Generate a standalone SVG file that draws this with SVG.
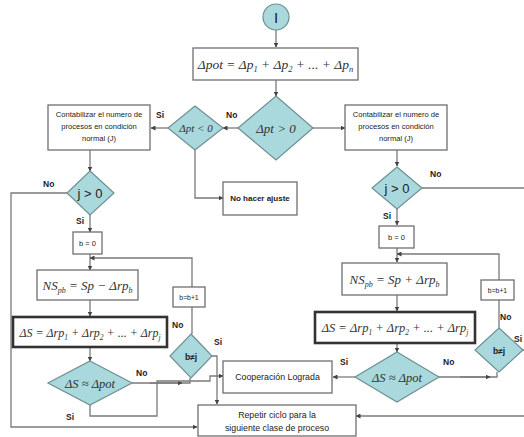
<svg xmlns="http://www.w3.org/2000/svg" width="524" height="437" viewBox="0 0 524 437">
<defs>
<style>
.box{fill:#fff;stroke:#6f6f6f;stroke-width:1.3}
.thick{fill:#fff;stroke:#333;stroke-width:2.6}
.dia{fill:#a9d9dc;stroke:#6f8f92;stroke-width:1.2}
.ln{fill:none;stroke:#7a7a7a;stroke-width:1.3}
.t{font-family:"Liberation Sans",Arial,sans-serif;fill:#222;text-anchor:middle}
.m{font-family:"Liberation Serif","Times New Roman",serif;font-style:italic;fill:#333;text-anchor:middle}
.lb{font-family:"Liberation Sans",Arial,sans-serif;font-weight:bold;font-size:8.5px;fill:#222}
</style>
<marker id="ar" markerWidth="5" markerHeight="5" refX="4.5" refY="2.5" orient="auto" markerUnits="userSpaceOnUse">
<path d="M0,0 L5,2.5 L0,5 Z" fill="#444"/>
</marker>
</defs>

<g id="connectors">
<path class="ln" d="M276,30 V47" marker-end="url(#ar)"/>
<path class="ln" d="M276,80 V96" marker-end="url(#ar)"/>
<path class="ln" d="M238,128 H223" marker-end="url(#ar)"/>
<path class="ln" d="M313,128 H345" marker-end="url(#ar)"/>
<path class="ln" d="M168,128 H151" marker-end="url(#ar)"/>
<path class="ln" d="M195,150 V198 H223" marker-end="url(#ar)"/>
<path class="ln" d="M90,150 V171" marker-end="url(#ar)"/>
<path class="ln" d="M67,193 H11 V427 H197" marker-end="url(#ar)"/>
<path class="ln" d="M90,215 V232" marker-end="url(#ar)"/>
<path class="ln" d="M90,254 V270" marker-end="url(#ar)"/>
<path class="ln" d="M192,287 V258 H90" marker-end="url(#ar)"/>
<path class="ln" d="M192,307 V334"/>
<path class="ln" d="M90,300 V316" marker-end="url(#ar)"/>
<path class="ln" d="M90,347 V361" marker-end="url(#ar)"/>
<path class="ln" d="M132,383 H190 V378"/>
<path class="ln" d="M150,383 H182" marker-end="url(#ar)"/>
<path class="ln" d="M90,405 V416 H157 V381 H210 V376 H223" marker-end="url(#ar)"/>
<path class="ln" d="M212,356 H217 V404" marker-end="url(#ar)"/>
<path class="ln" d="M397,150 V166" marker-end="url(#ar)"/>
<path class="ln" d="M422,188 H524"/>
<path class="ln" d="M397,209 V225" marker-end="url(#ar)"/>
<path class="ln" d="M397,248 V262" marker-end="url(#ar)"/>
<path class="ln" d="M499,280 V254 H397" marker-end="url(#ar)"/>
<path class="ln" d="M499,300 V328"/>
<path class="ln" d="M397,295 V311" marker-end="url(#ar)"/>
<path class="ln" d="M397,343 V352" marker-end="url(#ar)"/>
<path class="ln" d="M355,377 H333" marker-end="url(#ar)"/>
<path class="ln" d="M439,377 H497 V372"/>
<path class="ln" d="M460,377 H490" marker-end="url(#ar)"/>
<path class="ln" d="M523,350 H524"/>
<path class="ln" d="M524,416 H356" marker-end="url(#ar)"/>
</g>

<g id="start">
<circle cx="276" cy="17" r="13" class="dia"/>
<text x="276" y="23" class="t" style="font-size:15px">I</text>
</g>

<g id="dpot">
<rect x="193" y="48" width="165" height="32" class="box"/>
<text x="275.5" y="69" class="m" style="font-size:13.5px">Δpot = Δp<tspan font-size="8.5" dy="3">1</tspan><tspan dy="-3"> + Δp</tspan><tspan font-size="8.5" dy="3">2</tspan><tspan dy="-3"> + ... + Δp</tspan><tspan font-size="8.5" dy="3">n</tspan></text>
</g>

<g id="d-pos">
<polygon points="276,96 313,128 276,160 238,128" class="dia"/>
<text x="276" y="133" class="m" style="font-size:13px">Δpt &gt; 0</text>
</g>

<g id="d-neg">
<polygon points="195,106 223,128 195,150 168,128" class="dia"/>
<text x="196" y="132" class="m" style="font-size:11px">Δpt &lt; 0</text>
</g>

<g id="count-left">
<rect x="48" y="105" width="102" height="45" class="box"/>
<text class="t" style="font-size:7.6px"><tspan x="99" y="117">Contabilizar el numero de</tspan><tspan x="99" y="129">procesos en condición</tspan><tspan x="99" y="141">normal  (J)</tspan></text>
</g>

<g id="count-right">
<rect x="345" y="105" width="102" height="45" class="box"/>
<text class="t" style="font-size:7.6px"><tspan x="396" y="117">Contabilizar el numero de</tspan><tspan x="396" y="129">procesos en condición</tspan><tspan x="396" y="141">normal  (J)</tspan></text>
</g>

<g id="no-ajuste">
<rect x="223" y="182" width="74" height="33" class="box"/>
<text x="260" y="201" class="t" style="font-size:8px;font-weight:bold">No hacer ajuste</text>
</g>

<g id="j-left">
<polygon points="90,171 114,193 90,215 67,193" class="dia"/>
<text x="90" y="198" class="t" style="font-size:13px">j &gt; 0</text>
</g>

<g id="b0-left">
<rect x="73" y="232" width="29" height="22" class="box"/>
<text x="87.5" y="246" class="t" style="font-size:7.5px">b = 0</text>
</g>

<g id="ns-left">
<rect x="37" y="270" width="101" height="30" class="box"/>
<text x="87.5" y="290" class="m" style="font-size:13px">NS<tspan font-size="8" dy="3">pb</tspan><tspan dy="-3"> = Sp − Δrp</tspan><tspan font-size="8" dy="3">b</tspan></text>
</g>

<g id="ds-left">
<rect x="13" y="317" width="154" height="30" class="thick"/>
<text x="90" y="337" class="m" style="font-size:12px">ΔS = Δrp<tspan font-size="7.5" dy="3">1</tspan><tspan dy="-3"> + Δrp</tspan><tspan font-size="7.5" dy="3">2</tspan><tspan dy="-3"> + ... + Δrp</tspan><tspan font-size="7.5" dy="3">j</tspan></text>
</g>

<g id="cmp-left">
<polygon points="90,361 132,383 90,405 48,383" class="dia"/>
<text x="90" y="388" class="m" style="font-size:12.5px">ΔS ≈ Δpot</text>
</g>

<g id="inc-left">
<rect x="173" y="287" width="32" height="20" class="box"/>
<text x="189" y="300" class="t" style="font-size:6.8px">b=b+1</text>
</g>

<g id="bj-left">
<polygon points="191,334 212,356 191,378 170,356" class="dia"/>
<text x="191" y="360" class="t" style="font-size:8.5px;font-weight:bold">b≠j</text>
</g>

<g id="j-right">
<polygon points="397,167 422,188 397,209 372,188" class="dia"/>
<text x="397" y="193" class="t" style="font-size:13px">j &gt; 0</text>
</g>

<g id="b0-right">
<rect x="379" y="226" width="35" height="22" class="box"/>
<text x="396.5" y="240" class="t" style="font-size:7.5px">b = 0</text>
</g>

<g id="ns-right">
<rect x="342" y="263" width="105" height="32" class="box"/>
<text x="394.5" y="284" class="m" style="font-size:13px">NS<tspan font-size="8" dy="3">pb</tspan><tspan dy="-3"> = Sp + Δrp</tspan><tspan font-size="8" dy="3">b</tspan></text>
</g>

<g id="ds-right">
<rect x="315" y="312" width="160" height="31" class="thick"/>
<text x="395" y="332" class="m" style="font-size:12.5px">ΔS = Δrp<tspan font-size="7.5" dy="3">1</tspan><tspan dy="-3"> + Δrp</tspan><tspan font-size="7.5" dy="3">2</tspan><tspan dy="-3"> + ... + Δrp</tspan><tspan font-size="7.5" dy="3">j</tspan></text>
</g>

<g id="cmp-right">
<polygon points="397,352 439,377 397,402 355,377" class="dia"/>
<text x="397" y="382" class="m" style="font-size:12.5px">ΔS ≈ Δpot</text>
</g>

<g id="inc-right">
<rect x="481" y="280" width="33" height="20" class="box"/>
<text x="497.5" y="293" class="t" style="font-size:6.8px">b=b+1</text>
</g>

<g id="bj-right">
<polygon points="499,328 523,350 499,372 475,350" class="dia"/>
<text x="499" y="354" class="t" style="font-size:8.5px;font-weight:bold">b≠j</text>
</g>

<g id="coop">
<rect x="223" y="361" width="109" height="32" class="box"/>
<text x="277.5" y="380" class="t" style="font-size:8.8px">Cooperación Lograda</text>
</g>

<g id="repetir">
<rect x="198" y="405" width="158" height="31" class="box"/>
<text class="t" style="font-size:8.8px"><tspan x="277" y="418">Repetir ciclo para la</tspan><tspan x="277" y="431">siguiente clase de proceso</tspan></text>
</g>

<g id="labels">
<text x="156" y="118" class="lb">Si</text>
<text x="226" y="118" class="lb">No</text>
<text x="43" y="187" class="lb">No</text>
<text x="76" y="224" class="lb">Si</text>
<text x="172" y="328" class="lb">No</text>
<text x="214" y="345" class="lb">Si</text>
<text x="136" y="376" class="lb">No</text>
<text x="66" y="420" class="lb">Si</text>
<text x="430" y="177" class="lb">No</text>
<text x="383" y="219" class="lb">Si</text>
<text x="500" y="320" class="lb">No</text>
<text x="514" y="342" class="lb">Si</text>
<text x="340" y="365" class="lb">Si</text>
<text x="443" y="365" class="lb">No</text>
</g>
</svg>
